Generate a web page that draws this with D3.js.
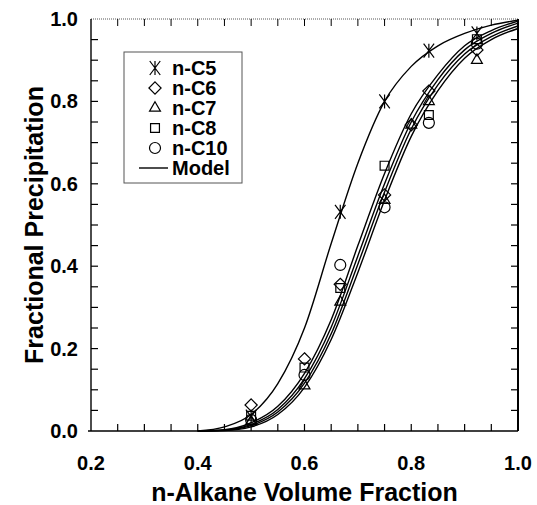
<!DOCTYPE html>
<html lang="en">
<head>
    <meta charset="UTF-8">
    <title>Fractional Precipitation</title>
    <style>
        body { margin: 0; background: #fff; }
        text {
            font-family: "Liberation Sans", Arial, sans-serif;
            font-weight: bold;
            fill: #000;
        }
        .tick-label { font-size: 20px; }
        .axis-title { font-size: 25px; }
        .legend text { font-size: 20px; }
        .model { fill: none; stroke: #000; stroke-width: 1.4px; }
        .marker { fill: none; stroke: #000; stroke-width: 1.2px; }
    </style>
    <script src="https://d3js.org/d3.v7.min.js"></script>
</head>
<body>
<svg></svg>
<script>
    // measured points
    const volFrac = [0.5, 0.6, 0.667, 0.75, 0.8, 0.833, 0.923];
    const c5  = [0.035, null, 0.532, 0.80, null, 0.923, 0.965];
    const c6  = [0.063, 0.175, 0.356, 0.573, 0.743, 0.825, 0.925];
    const c7  = [0.023, 0.110, 0.313, 0.560, 0.743, 0.800, 0.900];
    const c8  = [0.037, 0.154, 0.347, 0.644, null, 0.767, 0.951];
    const c10 = [0.027, 0.136, 0.403, 0.543, null, 0.748, 0.940];

    // model curves
    const modelX  = [0.40, 0.45, 0.50, 0.55, 0.60, 0.65, 0.70, 0.75, 0.80, 0.85, 0.90, 0.95, 1.00];
    const model5  = [0, 0.010, 0.040, 0.115, 0.250, 0.455, 0.650, 0.800, 0.885, 0.935, 0.965, 0.985, 0.997];
    const modelA  = [0, 0.003, 0.020, 0.060, 0.140, 0.270, 0.450, 0.625, 0.770, 0.865, 0.935, 0.972, 0.995];
    const modelB  = [0, 0.002, 0.016, 0.052, 0.127, 0.252, 0.425, 0.600, 0.750, 0.853, 0.925, 0.965, 0.990];
    const modelC  = [0, 0.002, 0.013, 0.046, 0.116, 0.236, 0.405, 0.580, 0.733, 0.840, 0.915, 0.957, 0.983];
    const modelD  = [0, 0.001, 0.010, 0.040, 0.106, 0.222, 0.385, 0.560, 0.715, 0.826, 0.905, 0.950, 0.977];

    const xTicks = [0.2, 0.4, 0.6, 0.8, 1.0];
    const yTicks = [0.0, 0.2, 0.4, 0.6, 0.8, 1.0];
    const legendNames = ["n-C5", "n-C6", "n-C7", "n-C8", "n-C10", "Model"];

    const W = 537, H = 505;
    const margin = { top: 19, right: 19, bottom: 74, left: 91 };

    const svg = d3.select("svg").attr("width", W).attr("height", H);

    const x = d3.scaleLinear().domain([0.2, 1.0]).range([margin.left, W - margin.right]);
    const y = d3.scaleLinear().domain([0, 1.0]).range([H - margin.bottom, margin.top]);

    const minorX = d3.range(0.2, 1.0001, 0.05);
    const minorY = d3.range(0, 1.0001, 0.05);
    const tickLen = 7;

    // frame + inward ticks
    const frame = svg.append("g");
    frame.append("line")
        .attr("x1", x(0.2)).attr("x2", x(1.0)).attr("y1", y(1)).attr("y2", y(1))
        .attr("stroke", "#555").attr("stroke-width", 1).attr("stroke-dasharray", "1,1");
    frame.append("line")
        .attr("x1", x(0.2) - 3).attr("x2", x(1.0)).attr("y1", y(0)).attr("y2", y(0))
        .attr("stroke", "#000").attr("stroke-width", 1.6);
    frame.append("line")
        .attr("x1", x(0.2)).attr("x2", x(0.2)).attr("y1", y(0)).attr("y2", y(1))
        .attr("stroke", "#000").attr("stroke-width", 1.4);
    frame.append("line")
        .attr("x1", x(1.0)).attr("x2", x(1.0)).attr("y1", y(0)).attr("y2", y(1))
        .attr("stroke", "#000").attr("stroke-width", 2);

    frame.selectAll(".tb").data(minorX.slice(1, -1)).enter().append("line")
        .attr("x1", d => x(d)).attr("x2", d => x(d))
        .attr("y1", y(0)).attr("y2", y(0) - tickLen)
        .attr("stroke", "#000").attr("stroke-width", 1.2);
    frame.selectAll(".tt").data(minorX.slice(1, -1)).enter().append("line")
        .attr("x1", d => x(d)).attr("x2", d => x(d))
        .attr("y1", y(1)).attr("y2", y(1) + tickLen)
        .attr("stroke", "#000").attr("stroke-width", 1);
    frame.selectAll(".tl").data(minorY.slice(1, -1)).enter().append("line")
        .attr("x1", x(0.2)).attr("x2", x(0.2) + tickLen)
        .attr("y1", d => y(d)).attr("y2", d => y(d))
        .attr("stroke", "#000").attr("stroke-width", 1.2);
    frame.selectAll(".tr").data(minorY.slice(1, -1)).enter().append("line")
        .attr("x1", x(1.0)).attr("x2", x(1.0) - tickLen)
        .attr("y1", d => y(d)).attr("y2", d => y(d))
        .attr("stroke", "#000").attr("stroke-width", 1.2);

    // tick labels
    svg.append("g").selectAll("text").data(xTicks).enter().append("text")
        .attr("class", "tick-label")
        .attr("x", d => x(d)).attr("y", y(0) + 39)
        .attr("text-anchor", "middle")
        .text(d => d.toFixed(1));
    svg.append("g").selectAll("text").data(yTicks).enter().append("text")
        .attr("class", "tick-label")
        .attr("x", x(0.2) - 13).attr("y", d => y(d) + 7)
        .attr("text-anchor", "end")
        .text(d => d.toFixed(1));

    // axis titles
    svg.append("text").attr("class", "axis-title")
        .attr("x", (x(0.2) + x(1.0)) / 2).attr("y", H - 4)
        .attr("text-anchor", "middle")
        .text("n-Alkane Volume Fraction");
    svg.append("text").attr("class", "axis-title")
        .attr("transform", `translate(43, ${(y(0) + y(1)) / 2}) rotate(-90)`)
        .attr("text-anchor", "middle")
        .text("Fractional Precipitation");

    // model lines
    const line = d3.line()
        .x(d => x(d[0])).y(d => y(d[1]))
        .curve(d3.curveMonotoneX);
    [model5, modelA, modelB, modelC, modelD].forEach(m => {
        svg.append("path")
            .datum(modelX.map((v, i) => [v, m[i]]))
            .attr("class", "model")
            .attr("d", line);
    });

    // marker shapes
    function asterisk(s) {
        const a = s * 0.5;
        return `M0,${-a}L0,${a}M${-a * 0.75},${-a}L${a * 0.75},${a}M${-a * 0.75},${a}L${a * 0.75},${-a}`;
    }
    const shapes = {
        c5: asterisk(14),
        c6: d3.symbol(d3.symbolDiamond2, 95)(),
        c7: d3.symbol(d3.symbolTriangle2, 85)(),
        c8: d3.symbol(d3.symbolSquare2, 100)(),
        c10: d3.symbol(d3.symbolCircle, 95)()
    };

    const series = [
        { key: "c5", vals: c5 },
        { key: "c6", vals: c6 },
        { key: "c7", vals: c7 },
        { key: "c8", vals: c8 },
        { key: "c10", vals: c10 }
    ];
    series.forEach(s => {
        const pts = volFrac.map((v, i) => [v, s.vals[i]]).filter(p => p[1] !== null);
        svg.append("g").selectAll("path").data(pts).enter().append("path")
            .attr("class", "marker")
            .attr("d", shapes[s.key])
            .attr("transform", d => `translate(${x(d[0])}, ${y(d[1])})`);
    });

    // legend
    const lg = svg.append("g").attr("class", "legend");
    lg.append("rect")
        .attr("x", 124).attr("y", 52).attr("width", 118).attr("height", 131)
        .attr("fill", "#fff").attr("stroke", "#555").attr("stroke-width", 1);
    const keys = ["c5", "c6", "c7", "c8", "c10"];
    legendNames.forEach((name, i) => {
        const cy = 68 + i * 20;
        if (i < 5) {
            lg.append("path").attr("class", "marker")
                .attr("d", shapes[keys[i]])
                .attr("transform", `translate(155, ${cy})`);
        } else {
            lg.append("line").attr("x1", 139).attr("x2", 168)
                .attr("y1", cy).attr("y2", cy)
                .attr("stroke", "#000").attr("stroke-width", 1.4);
        }
        lg.append("text").attr("x", 172).attr("y", cy + 7).text(name);
    });
</script>
</body>
</html>
